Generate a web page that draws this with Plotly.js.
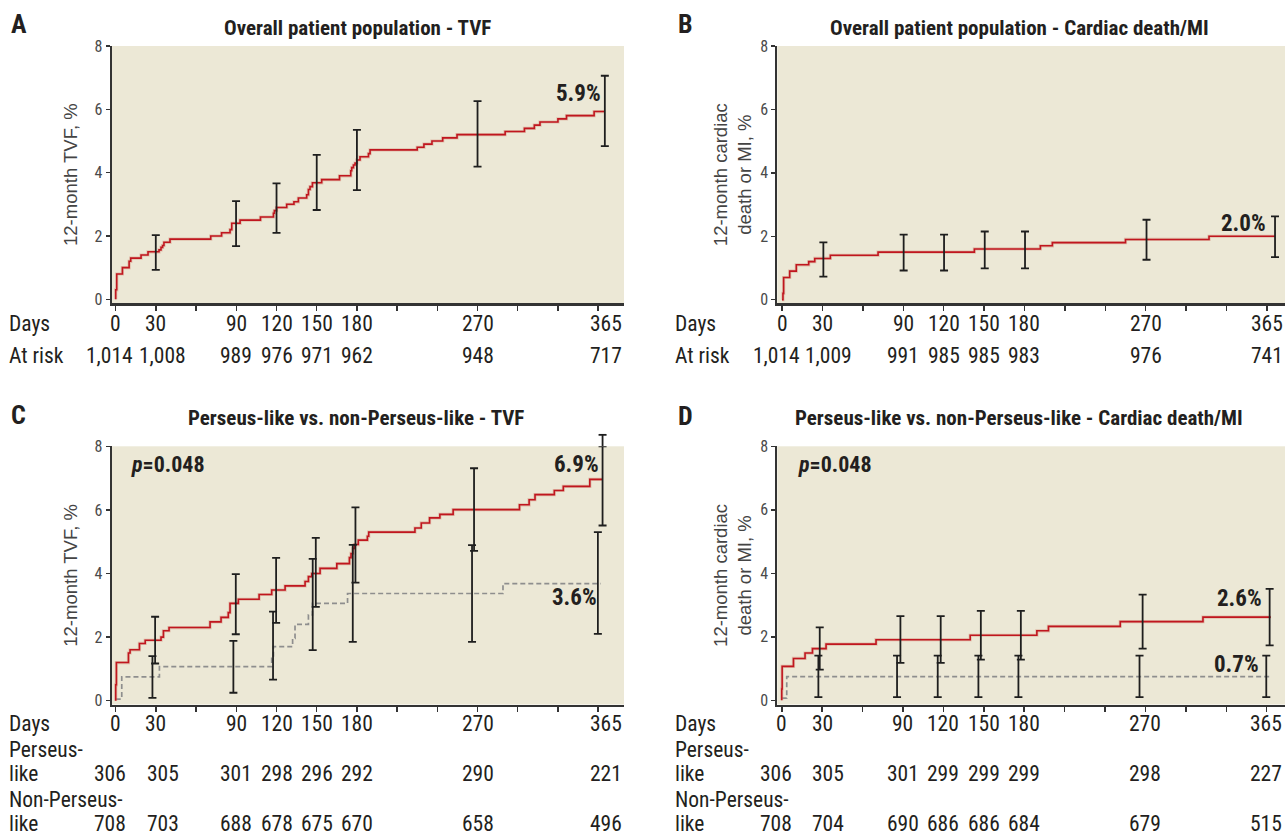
<!DOCTYPE html>
<html>
<head>
<meta charset="utf-8">
<script src="https://cdn.plot.ly/plotly-3.0.1.min.js"></script>
<style>
html,body{margin:0;padding:0;background:#fff;}
#chart{width:1287px;height:837px;}
</style>
</head>
<body>
<div id="chart"></div>
<script>
// ---------------- DATA ----------------
const tickDays = [0,30,60,90,120,150,180,210,240,270,300,330,360];
const yTicks = [0,2,4,6,8];
const dayLabels = [0,30,90,120,150,180,270,365];

// A: overall TVF
const aDays = [0,0,0.75,5,10,11.2,18.9,24.1,32.3,33.8,35,36,40.5,70.9,79,85.3,86.6,92.8,108,117.7,118.4,120,127.6,133,136.3,142.5,143.8,145,146.8,153.7,167,175.4,176.1,177.4,178.6,179.9,182.3,188.6,189.8,225,230,236,244,254.7,290.6,305,312.4,316.6,330,336.4,357,365];
const aVals = [0,0.3,0.8,1.0,1.2,1.3,1.4,1.5,1.56,1.64,1.7,1.8,1.9,2.0,2.1,2.2,2.4,2.5,2.6,2.72,2.8,2.9,3.0,3.08,3.2,3.3,3.47,3.56,3.68,3.78,3.9,4.06,4.16,4.24,4.3,4.4,4.5,4.6,4.72,4.8,4.9,5.0,5.1,5.2,5.3,5.4,5.5,5.6,5.7,5.8,5.93,5.93];
const aBarDays = [29.9,89.8,120,150,180,270,365];
const aBarEst = [1.5,2.4,2.9,3.7,4.4,5.2,5.93];
const aBarLo = [0.93,1.68,2.1,2.82,3.45,4.19,4.84];
const aBarHi = [2.03,3.1,3.66,4.56,5.35,6.26,7.06];
const aRisk = [1014,1008,989,976,971,962,948,717];

// B: overall cardiac death / MI
const bDays = [0,0.7,1.2,5.7,10.6,19.8,24.3,35.9,71.3,142.8,191.8,200.7,255,317,366];
const bVals = [0,0.2,0.7,0.9,1.1,1.2,1.3,1.4,1.5,1.6,1.7,1.8,1.9,2.0,2.0];
const bBarDays = [30.7,90.3,120.3,150.5,180.4,270.6,366];
const bBarEst = [1.3,1.5,1.5,1.6,1.6,1.9,2.0];
const bBarLo = [0.73,0.92,0.92,0.99,0.99,1.26,1.34];
const bBarHi = [1.81,2.05,2.05,2.15,2.15,2.52,2.63];
const bRisk = [1014,1009,991,985,985,983,976,741];

// C: Perseus-like vs non-Perseus-like TVF
const cPDays = [0,0,0.5,9.5,10.7,17.7,22,33.8,35.6,39.8,70.4,78.6,84,85.3,91.5,107,116.4,126.4,141.3,143.8,146.3,152.5,165,174.4,175.6,176.9,178,181,187.8,188.8,223.3,228,234.2,241.9,251.8,301.3,308.5,312.9,327.3,334,353.8,363.3];
const cPVals = [0,0.5,1.2,1.5,1.6,1.8,1.9,2.0,2.2,2.3,2.48,2.62,2.77,3.06,3.19,3.34,3.48,3.61,3.75,3.9,4.0,4.16,4.31,4.5,4.63,4.79,4.91,5.05,5.17,5.3,5.43,5.59,5.75,5.86,6.01,6.16,6.32,6.48,6.61,6.74,6.96,6.96];
const cNDays = [0,4.5,32.6,116.4,117.7,132,133.8,143.8,146.8,173,289,362];
const cNVals = [0.05,0.75,1.07,1.33,1.7,1.96,2.4,2.7,3.06,3.37,3.68,3.68];
const cPBarDays = [29.4,89.6,119.7,149.3,178.9,267.4,363.3];
const cPBarEst = [1.9,3.06,3.48,4.0,4.91,6.01,6.96];
const cPBarLo = [1.17,2.09,2.45,2.95,3.71,4.71,5.51];
const cPBarHi = [2.64,3.98,4.49,5.12,6.08,7.31,8.36];
const cNBarDays = [27.4,87.8,117.4,147,176.9,265.9,359.8];
const cNBarEst = [0.75,1.07,1.7,3.06,3.37,3.37,3.68];
const cNBarLo = [0.09,0.25,0.66,1.59,1.85,1.85,2.1];
const cNBarHi = [1.4,1.88,2.8,4.46,4.9,4.89,5.3];
const cRiskP = [306,305,301,298,296,292,290,221];
const cRiskN = [708,703,688,678,675,670,658,496];

// D: Perseus-like vs non-Perseus-like cardiac death / MI
const dPDays = [0,0,0.3,8.7,17.3,22.8,32.9,70,139.9,189.4,198,251.3,312.7,363];
const dPVals = [0,0.36,1.07,1.32,1.49,1.63,1.77,1.91,2.05,2.19,2.33,2.48,2.62,2.62];
const dNDays = [0,3.7,363];
const dNVals = [0.07,0.75,0.75];
const dPBarDays = [28.2,88.1,118,147.8,177.5,267.9,362.2];
const dPBarEst = [1.63,1.91,1.91,2.05,2.05,2.48,2.62];
const dPBarLo = [0.97,1.18,1.18,1.28,1.28,1.63,1.73];
const dPBarHi = [2.3,2.65,2.65,2.82,2.82,3.33,3.51];
const dNBarDays = [27.2,85.6,115.8,146,175.7,265.6,359.7];
const dNBarEst = [0.75,0.75,0.75,0.75,0.75,0.75,0.75];
const dNBarLo = [0.1,0.1,0.1,0.1,0.1,0.1,0.1];
const dNBarHi = [1.41,1.41,1.41,1.41,1.41,1.41,1.41];
const dRiskP = [306,305,301,299,299,299,298,227];
const dRiskN = [708,704,690,686,686,684,679,515];

const titles = ['Overall patient population - TVF','Overall patient population - Cardiac death/MI','Perseus-like vs. non-Perseus-like - TVF','Perseus-like vs. non-Perseus-like - Cardiac death/MI'];
const letters = ['A','B','C','D'];
const yTitles = ['12-month TVF, %','12-month cardiac<br>death or MI, %','12-month TVF, %','12-month cardiac<br>death or MI, %'];
const pText = '<i>p</i>=0.048';

// ---------------- STYLE ----------------
const W = 1287, H = 837;
const FC = '"Roboto Condensed", "Open Sans Condensed", sans-serif';
const FY = '"Liberation Sans", Arial, sans-serif';
const INK = '#231f20';
const RED = '#c0161f';
const HALO = 'rgba(210,140,120,0.45)';
const GRAY = '#8e8e8e';
const BG = '#ece8d6';
const AX = '#333333';
const BARC = '#1e1e1e';
const shiftLeftPanel = [-6,7,0,0,0,0,0,1];
const shiftRightPanel = [-6,6,0,0,0,0,0,-7];
const dayShiftLeft = [0,0,0,0,0,0,0,1];
const dayShiftRight = [0,0,0,0,0,0,0,-7];
const py = v => 1 - v / H;
const px = v => v / W;

// ---------------- TRACES ----------------
const traces = [];
const shapes = [];
function stepLine(xa, ya, xs, ys, kind) {
  if (kind === 'red') {
    traces.push({x: xs, y: ys, xaxis: xa, yaxis: ya, type: 'scatter', mode: 'lines',
      line: {shape: 'hv', color: HALO, width: 3.2}, hoverinfo: 'skip', showlegend: false});
    traces.push({x: xs, y: ys, xaxis: xa, yaxis: ya, type: 'scatter', mode: 'lines',
      line: {shape: 'hv', color: RED, width: 1.6}, showlegend: false});
  } else {
    traces.push({x: xs, y: ys, xaxis: xa, yaxis: ya, type: 'scatter', mode: 'lines',
      line: {shape: 'hv', color: GRAY, width: 1.7, dash: '5px,3px'}, showlegend: false});
  }
}
// y-axis settings per subplot (needed to carry whiskers that run above the frame)
const yDomains = {}, yRanges = {};
function bars(xa, ya, xs, est, lo, hi) {
  traces.push({x: xs, y: est, xaxis: xa, yaxis: ya, type: 'scatter', mode: 'markers',
    marker: {size: 1, opacity: 0}, cliponaxis: false, showlegend: false,
    error_y: {type: 'data', symmetric: false,
      array: hi.map((h, i) => +(Math.min(h, 8) - est[i]).toFixed(3)),
      arrayminus: lo.map((l, i) => +(est[i] - l).toFixed(3)),
      color: BARC, thickness: 1.8, width: 4}});
  // whisker parts above the top of the axis (value 8) drawn with paper-y shapes
  hi.forEach((h, i) => {
    if (h > 8) {
      const d = yDomains[ya], r = yRanges[ya];
      const toPaper = v => d[0] + (v - r[0]) / (r[1] - r[0]) * (d[1] - d[0]);
      shapes.push({type: 'line', xref: xa, yref: 'paper', x0: xs[i], x1: xs[i], y0: toPaper(8), y1: toPaper(h),
        line: {color: BARC, width: 1.8}});
      shapes.push({type: 'line', xref: xa, yref: 'paper', xsizemode: 'pixel', xanchor: xs[i], x0: -4, x1: 4,
        y0: toPaper(h), y1: toPaper(h), line: {color: BARC, width: 1.8}});
    }
  });
}
const xL = [px(111.7), px(624)], xR = [px(777.3), px(1285)];
const yT = [py(303.3), py(46)], yB = [py(704.5), py(446.3)];
yDomains.y = yT; yRanges.y = [-0.126, 8];
yDomains.y2 = yT; yRanges.y2 = [-0.114, 8];
yDomains.y3 = yB; yRanges.y3 = [-0.12, 8];
yDomains.y4 = yB; yRanges.y4 = [-0.13, 8];

stepLine('x', 'y', aDays, aVals, 'red');
bars('x', 'y', aBarDays, aBarEst, aBarLo, aBarHi);
stepLine('x2', 'y2', bDays, bVals, 'red');
bars('x2', 'y2', bBarDays, bBarEst, bBarLo, bBarHi);
stepLine('x3', 'y3', cNDays, cNVals, 'gray');
stepLine('x3', 'y3', cPDays, cPVals, 'red');
bars('x3', 'y3', cNBarDays, cNBarEst, cNBarLo, cNBarHi);
bars('x3', 'y3', cPBarDays, cPBarEst, cPBarLo, cPBarHi);
stepLine('x4', 'y4', dNDays, dNVals, 'gray');
stepLine('x4', 'y4', dPDays, dPVals, 'red');
bars('x4', 'y4', dNBarDays, dNBarEst, dNBarLo, dNBarHi);
bars('x4', 'y4', dPBarDays, dPBarEst, dPBarLo, dPBarHi);

// ---------------- AXES ----------------
function xAxis(dom, range, anchor) {
  return {domain: dom, range: range, anchor: anchor, tickvals: tickDays, showticklabels: false,
    ticks: 'outside', ticklen: 5, tickwidth: 1.5, tickcolor: AX, showline: true, linecolor: AX,
    linewidth: 2.4, showgrid: false, zeroline: false, fixedrange: true};
}
function yAxis(ya, anchor, title, standoff) {
  return {domain: yDomains[ya], range: yRanges[ya], anchor: anchor, tickvals: yTicks,
    tickfont: {family: FC, size: 16, color: '#4a4a4a'},
    ticks: 'outside', ticklen: 4, tickwidth: 1.5, tickcolor: AX, showline: true, linecolor: AX,
    linewidth: 2, showgrid: false, zeroline: false, fixedrange: true,
    title: {text: title, font: {family: FY, size: 18.5, color: '#444'}, standoff: standoff}};
}

// ---------------- ANNOTATIONS ----------------
const ann = [];
function txt(o) { ann.push(Object.assign({showarrow: false, xanchor: 'center', yanchor: 'middle', borderpad: 0}, o)); }
const letterPos = [[18.5,24],[685,24],[18,415],[685,416]];
const titlePos = [[357,28],[1019.5,28],[356,418],[1019.5,418]];
letters.forEach((l, i) => txt({xref: 'paper', yref: 'paper', x: px(letterPos[i][0]), y: py(letterPos[i][1]), text: '<b>' + l + '</b>',
  font: {family: FC, size: 26, color: INK}}));
titles.forEach((t, i) => txt({xref: 'paper', yref: 'paper', x: px(titlePos[i][0]), y: py(titlePos[i][1]), text: '<b>' + t + '</b>',
  font: {family: FC, size: 21, color: INK}}));

const TF = {family: FC, size: 21.5, color: INK};
function labelLeft(xp, yp, t) { txt({xref: 'paper', yref: 'paper', x: px(xp), y: py(yp), xanchor: 'left', text: t, font: TF}); }
function row(xa, yp, vals, shifts) {
  vals.forEach((v, i) => txt({xref: xa, yref: 'paper', x: dayLabels[i], y: py(yp), text: v,
    xshift: shifts[i], font: TF}));
}
const fmt = n => n.toLocaleString('en-US');
// A / B tables
[['x', 8, aRisk, shiftLeftPanel, dayShiftLeft], ['x2', 674, bRisk, shiftRightPanel, dayShiftRight]].forEach(([xa, lx, risk, sh, dsh]) => {
  labelLeft(lx, 323.5, 'Days');
  labelLeft(lx, 355, 'At risk');
  row(xa, 323.5, dayLabels.map(String), dsh);
  row(xa, 355, risk.map(fmt), sh);
});
// C / D tables
[['x3', 8, cRiskP, cRiskN, shiftLeftPanel, dayShiftLeft], ['x4', 674, dRiskP, dRiskN, shiftRightPanel, dayShiftRight]].forEach(([xa, lx, rp, rn, sh, dsh]) => {
  labelLeft(lx, 723.5, 'Days');
  labelLeft(lx, 749.5, 'Perseus-');
  labelLeft(lx, 773.5, 'like');
  labelLeft(lx, 799.5, 'Non-Perseus-');
  labelLeft(lx, 823.5, 'like');
  row(xa, 723.5, dayLabels.map(String), dsh);
  row(xa, 773.5, rp.map(fmt), sh);
  row(xa, 823.5, rn.map(fmt), sh);
});
// p values
txt({xref: 'paper', yref: 'paper', x: px(130), y: py(464), xanchor: 'left', text: '<b>' + pText + '</b>', font: {family: FC, size: 22, color: INK}});
txt({xref: 'paper', yref: 'paper', x: px(796.7), y: py(464), xanchor: 'left', text: '<b>' + pText + '</b>', font: {family: FC, size: 22, color: INK}});
// final percentages anchored to curve ends
const endLabels = [
  ['x', 'y', aDays, aVals, '5.9%', -3, 17.6],
  ['x2', 'y2', bDays, bVals, '2.0%', -8.3, 12.5],
  ['x3', 'y3', cPDays, cPVals, '6.9%', -2.5, 14.7],
  ['x3', 'y3', cNDays, cNVals, '3.6%', -3, -13.5],
  ['x4', 'y4', dPDays, dPVals, '2.6%', -8, 18.7],
  ['x4', 'y4', dNDays, dNVals, '0.7%', -10.7, 12]
];
endLabels.forEach(([xa, ya, xs, ys, t, dx, dy]) => txt({xref: xa, yref: ya, x: xs[xs.length - 1], y: ys[ys.length - 1],
  xanchor: 'right', xshift: dx, yshift: dy, text: '<b>' + t + '</b>', font: {family: FC, size: 23, color: INK}}));

const layout = {
  width: W, height: H, margin: {l: 0, r: 0, t: 0, b: 0},
  paper_bgcolor: '#ffffff', plot_bgcolor: BG, showlegend: false, hovermode: false,
  xaxis: xAxis(xL, [-3.0, 379.3], 'y'),
  yaxis: yAxis('y', 'x', yTitles[0], 12),
  xaxis2: xAxis(xR, [-3.5, 373.4], 'y2'),
  yaxis2: yAxis('y2', 'x2', yTitles[1], 4),
  xaxis3: xAxis(xL, [-3.0, 379.3], 'y3'),
  yaxis3: yAxis('y3', 'x3', yTitles[2], 12),
  xaxis4: xAxis(xR, [-3.3, 373.6], 'y4'),
  yaxis4: yAxis('y4', 'x4', yTitles[3], 4),
  annotations: ann,
  shapes: shapes
};
Plotly.newPlot('chart', traces, layout, {staticPlot: true, displayModeBar: false});
</script>
</body>
</html>
